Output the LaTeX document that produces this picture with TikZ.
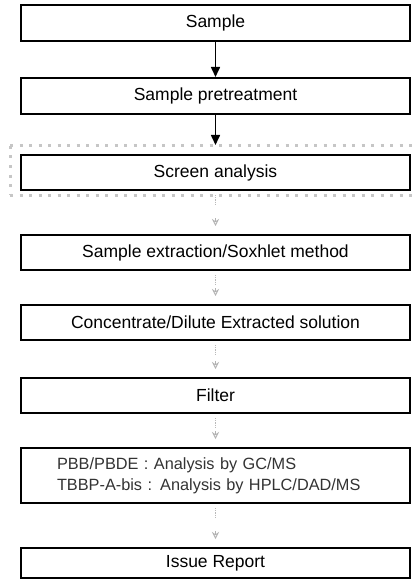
\documentclass[tikz,border=0pt]{standalone}
\usepackage{fontspec}
\setmainfont{Liberation Sans}
\usetikzlibrary{arrows.meta}
\tikzset{
  stepbox/.style={draw=black, line width=2pt, fill=white, minimum width=389pt, inner sep=0pt, font=\fontsize{17.5}{20}\selectfont},
  blackarrow/.style={line width=1.6pt, -{Triangle[length=10pt,width=9pt]}},
  faintline/.style={draw=gray!55, line width=1.2pt, dash pattern=on 1.2pt off 1pt},
  fainttip/.style={draw=gray!60, line width=0.8pt, -{Stealth[length=7pt,width=7pt,open]}},
  selframe/.style={draw=gray!45, line width=3pt, dash pattern=on 3pt off 6.5pt},
}
\begin{document}
\begin{tikzpicture}[x=1pt,y=-1pt]
\useasboundingbox (0,0) rectangle (416,580);
\fill[white] (0,0) rectangle (416,580);
% selection frame around screen analysis
\draw[selframe] (10,146) -- (422,146);
\draw[selframe] (10,195) -- (422,195);
\draw[selframe] (10,146) -- (10,195);

\node[stepbox, minimum height=36pt] (b1) at (215.5,23) {Sample};
\node[stepbox, minimum height=36pt] (b2) at (215.5,96) {Sample pretreatment};
\node[stepbox, minimum height=35pt] (b3) at (215.5,172.5) {Screen analysis};
\node[stepbox, minimum height=35pt] (b4) at (215.5,252.5) {Sample extraction/Soxhlet method};
\node[stepbox, minimum height=35pt] (b5) at (215.5,322.5) {Concentrate/Dilute Extracted solution};
\node[stepbox, minimum height=35pt] (b6) at (215.5,395.5) {Filter};
\node[stepbox, minimum height=55pt, text width=317pt, inner xsep=36pt, align=left, text=black!80,
      font=\fontsize{16.3}{21}\selectfont] (b7) at (215.5,475.5)
      {PBB/PBDE : Analysis by GC/MS\\TBBP-A-bis : Analysis by HPLC/DAD/MS};
\node[stepbox, minimum height=30pt] (b8) at (215.5,563) {Issue Report};

\coordinate (t2) at ([yshift=9pt]b3.north);
\draw[blackarrow] (b1.south) -- (b2.north);
\draw[blackarrow] (b2.south) -- (t2);

\foreach \a/\b in {b3/b4,b4/b5,b5/b6,b6/b7,b7/b8}{
  \draw[faintline] ([yshift=-4pt]\a.south) -- ([yshift=-15pt]\a.south);
  \draw[fainttip] ([yshift=16pt]\b.north) -- ([yshift=8pt]\b.north);
}
\end{tikzpicture}
\end{document}
